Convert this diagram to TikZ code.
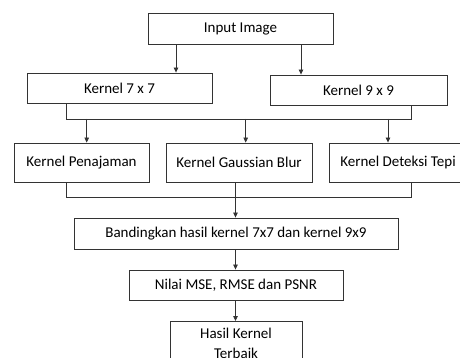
\documentclass[tikz,border=0pt]{standalone}
\usepackage{fontspec}
\setmainfont{Carlito}
\usetikzlibrary{arrows.meta}
\definecolor{ln}{HTML}{333333}
\begin{document}
\begin{tikzpicture}[x=1pt,y=-1pt,
  box/.style={draw=ln,line width=0.85pt,rectangle,inner sep=0pt,align=center,
    font=\fontsize{15}{20.5}\selectfont},
  link/.style={draw=ln,line width=0.8pt},
  arr/.style={link,-{Triangle[width=4.5pt,length=5pt]}}]
\useasboundingbox (0,0) rectangle (460,358);
\clip (0,0) rectangle (460,358);
\fill[white] (0,0) rectangle (460,358);
\node[box,minimum width=185pt,minimum height=31pt] (in) at (240.5,28.5) {Input Image};
\node[box,minimum width=185pt,minimum height=30pt] (k7) at (119.5,88) {Kernel 7 x 7};
\node[box,minimum width=177pt,minimum height=30pt] (k9) at (358.5,90) {Kernel 9 x 9};
\node[box,minimum width=135pt,minimum height=39pt] (pen) at (81.5,162.5) {Kernel Penajaman};
\node[box,minimum width=146pt,minimum height=39pt] (gau) at (239,162.5) {Kernel Gaussian Blur};
\node[box,minimum width=138pt,minimum height=39pt] (det) at (398,162.5) {Kernel Deteksi Tepi};
\node[box,minimum width=324pt,minimum height=31pt] (ban) at (236,233.5) {Bandingkan hasil kernel 7x7 dan kernel 9x9};
\node[box,minimum width=214pt,minimum height=30pt] (nil) at (236,285) {Nilai MSE, RMSE dan PSNR};
\node[box,minimum width=132pt,minimum height=44pt,anchor=north] (has) at (236,321) {Hasil Kernel\\Terbaik};
% input to kernels
\coordinate (a1) at (176,0);
\coordinate (a2) at (301,0);
\draw[arr] (in.south -| a1) -- (k7.north -| a1);
\draw[arr] (in.south -| a2) -- (k9.north -| a2);
% upper bus
\coordinate (b1) at (66.5,119);
\coordinate (b2) at (411,119);
\draw[link] (k7.south -| b1) -- (b1) -- (b2) -- (k9.south -| b2);
\coordinate (p1) at (86.7,119);
\coordinate (p2) at (245.7,119);
\coordinate (p3) at (388,119);
\draw[arr] (p1) -- (pen.north -| p1);
\draw[arr] (p2) -- (gau.north -| p2);
\draw[arr] (p3) -- (det.north -| p3);
% lower bus
\coordinate (c1) at (66,197);
\coordinate (c2) at (235.5,197);
\coordinate (c3) at (411,197);
\draw[link] (pen.south -| c1) -- (c1) -- (c3) -- (det.south -| c3);
\draw[arr] (gau.south -| c2) -- (ban.north -| c2);
\draw[arr] (ban.south -| c2) -- (nil.north -| c2);
\draw[arr] (nil.south -| c2) -- (has.north -| c2);
\end{tikzpicture}
\end{document}
